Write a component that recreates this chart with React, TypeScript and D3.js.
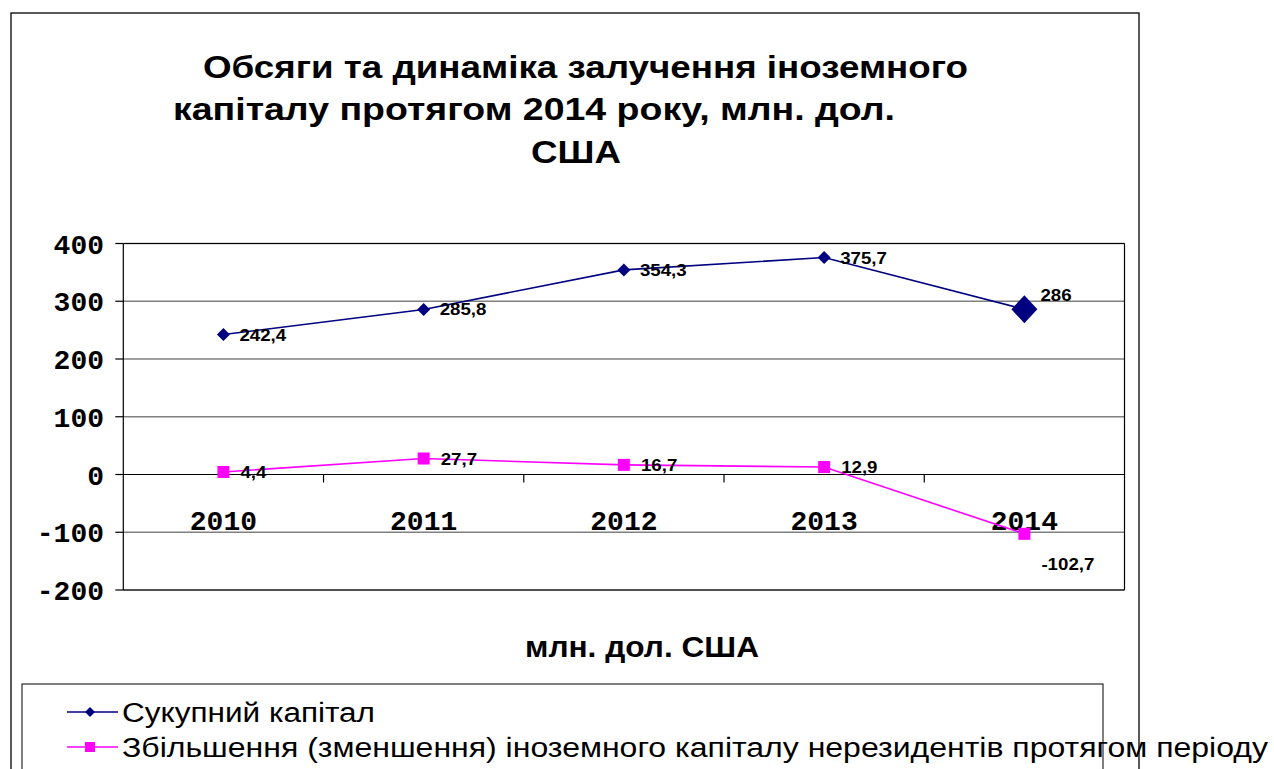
import React from "react";
import * as d3 from "d3";

const titleLines = [
  "Обсяги та динаміка залучення іноземного",
  "капіталу протягом 2014 року, млн. дол.",
  "США",
];
const years = ["2010", "2011", "2012", "2013", "2014"];
const totalCapital = [242.4, 285.8, 354.3, 375.7, 286];
const changeCapital = [4.4, 27.7, 16.7, 12.9, -102.7];
const yTicks = [400, 300, 200, 100, 0, -100, -200];
const seriesNames = [
  "Сукупний капітал",
  "Збільшення (зменшення) іноземного капіталу нерезидентів протягом періоду",
];
const axisTitle = "млн. дол. США";

const fmt = (v: number) => String(v).replace(".", ",");

export default function App() {
  const W = 1274, H = 769;
  const left = 123.3, right = 1124.5, top = 243.5, bottom = 590;
  const x = d3.scaleBand<string>().domain(years).range([left, right]);
  const y = d3.scaleLinear().domain([-200, 400]).range([bottom, top]);
  const cx = (c: string) => (x(c) as number) + x.bandwidth() / 2;
  const navy = "#000080";
  const pink = "#FF00FF";
  const line = d3.line<[number, number]>().x((d) => d[0]).y((d) => d[1]);
  const p1 = years.map((c, i) => [cx(c), y(totalCapital[i])] as [number, number]);
  const p2 = years.map((c, i) => [cx(c), y(changeCapital[i])] as [number, number]);
  const diamond = (px: number, py: number, rx: number, ry: number) =>
    `M${px},${py - ry}L${px + rx},${py}L${px},${py + ry}L${px - rx},${py}Z`;
  const mono = "'Liberation Mono', 'Courier New', monospace";
  const sans = "'Liberation Sans', Arial, sans-serif";
  const sx = 1.1;

  const titleSpecs = [
    { x0: 203, x1: 968, yb: 78 },
    { x0: 173, x1: 895, yb: 120 },
    { x0: 531, x1: 621, yb: 163 },
  ];

  return (
    <svg width={W} height={H} style={{ position: "absolute", left: 0, top: 0, background: "#fff" }}>
      <rect x={0} y={0} width={W} height={H} fill="#fff" />
      {/* outer frame */}
      <rect x={11} y={13} width={1128} height={800} fill="none" stroke="#000" strokeWidth={1.3} />
      {/* title */}
      <g fontFamily={sans} fontWeight="bold" fontSize={31} fill="#000">
        {titleLines.map((t, i) => (
          <text key={"tt" + i} x={titleSpecs[i].x0} y={titleSpecs[i].yb}
            textLength={titleSpecs[i].x1 - titleSpecs[i].x0} lengthAdjust="spacingAndGlyphs">
            {t}
          </text>
        ))}
      </g>
      {/* gridlines */}
      {yTicks.map((t) => (
        <line key={"g" + t} x1={left} x2={right} y1={y(t)} y2={y(t)}
          stroke={t === 0 ? "#000" : "#808080"} strokeWidth={t === 0 ? 1.2 : 1.5} />
      ))}
      {/* plot frame */}
      <line x1={left} x2={right} y1={top} y2={top} stroke="#000" strokeWidth={1.2} />
      <line x1={left} x2={right} y1={bottom} y2={bottom} stroke="#000" strokeWidth={1.2} />
      <line x1={right} x2={right} y1={top} y2={bottom} stroke="#000" strokeWidth={1.2} />
      <line x1={left} x2={left} y1={top} y2={bottom} stroke="#000" strokeWidth={1.2} />
      {/* y ticks */}
      {yTicks.map((t) => (
        <g key={"t" + t}>
          <line x1={left - 8} x2={left} y1={y(t)} y2={y(t)} stroke="#000" strokeWidth={1.2} />
          <text x={104} y={y(t) + 10} textAnchor="end" fontFamily={mono} fontWeight="bold" fontSize={28}>
            {t < 0 ? "-" + Math.abs(t) : t}
          </text>
        </g>
      ))}
      {/* x ticks on zero line */}
      {years.slice(1).map((c) => (
        <line key={"xt" + c} x1={x(c) as number} x2={x(c) as number} y1={y(0)} y2={y(0) + 8}
          stroke="#000" strokeWidth={1.2} />
      ))}
      {/* category labels */}
      {years.map((c) => (
        <text key={"c" + c} x={cx(c)} y={530} textAnchor="middle" fontFamily={mono} fontWeight="bold" fontSize={28}>
          {c}
        </text>
      ))}
      {/* series lines */}
      <path d={line(p1) as string} fill="none" stroke={navy} strokeWidth={1.6} />
      <path d={line(p2) as string} fill="none" stroke={pink} strokeWidth={1.6} />
      {/* markers */}
      {p1.map(([px, py], i) => (
        <path key={"m1" + i} d={i === 4 ? diamond(px, py, 13, 14) : diamond(px, py, 6.5, 6.5)} fill={navy} />
      ))}
      {p2.map(([px, py], i) => (
        <rect key={"m2" + i} x={px - 6} y={py - 6} width={12} height={12} fill={pink} />
      ))}
      {/* data labels */}
      <g fontFamily={sans} fontWeight="bold" fontSize={17} fill="#000">
        {p1.map(([px, py], i) => (
          <text key={"l1" + i}
            transform={`translate(${px + (i === 4 ? 16 : 16)},${py + (i === 4 ? -8 : 6)}) scale(${sx},1)`}>
            {fmt(totalCapital[i])}
          </text>
        ))}
        {p2.map(([px, py], i) => (
          <text key={"l2" + i}
            transform={`translate(${px + 17},${py + (i === 4 ? 36 : 6)}) scale(${sx},1)`}>
            {fmt(changeCapital[i])}
          </text>
        ))}
      </g>
      {/* axis title */}
      <text x={525} y={657} fontFamily={sans} fontWeight="bold" fontSize={29}
        textLength={234} lengthAdjust="spacingAndGlyphs">
        {axisTitle}
      </text>
      {/* legend */}
      <rect x={22} y={684} width={1081} height={120} fill="none" stroke="#000" strokeWidth={1} />
      <line x1={67} x2={118} y1={712} y2={712} stroke={navy} strokeWidth={1.6} />
      <path d={diamond(90, 712, 5, 5)} fill={navy} />
      <line x1={67} x2={118} y1={747} y2={747} stroke={pink} strokeWidth={1.6} />
      <rect x={85} y={742} width={10} height={10} fill={pink} />
      <g fontFamily={sans} fontSize={27} fill="#000">
        <text x={122} y={722} textLength={253} lengthAdjust="spacingAndGlyphs">{seriesNames[0]}</text>
        <text x={122} y={757} textLength={1146} lengthAdjust="spacingAndGlyphs">{seriesNames[1]}</text>
      </g>
    </svg>
  );
}
